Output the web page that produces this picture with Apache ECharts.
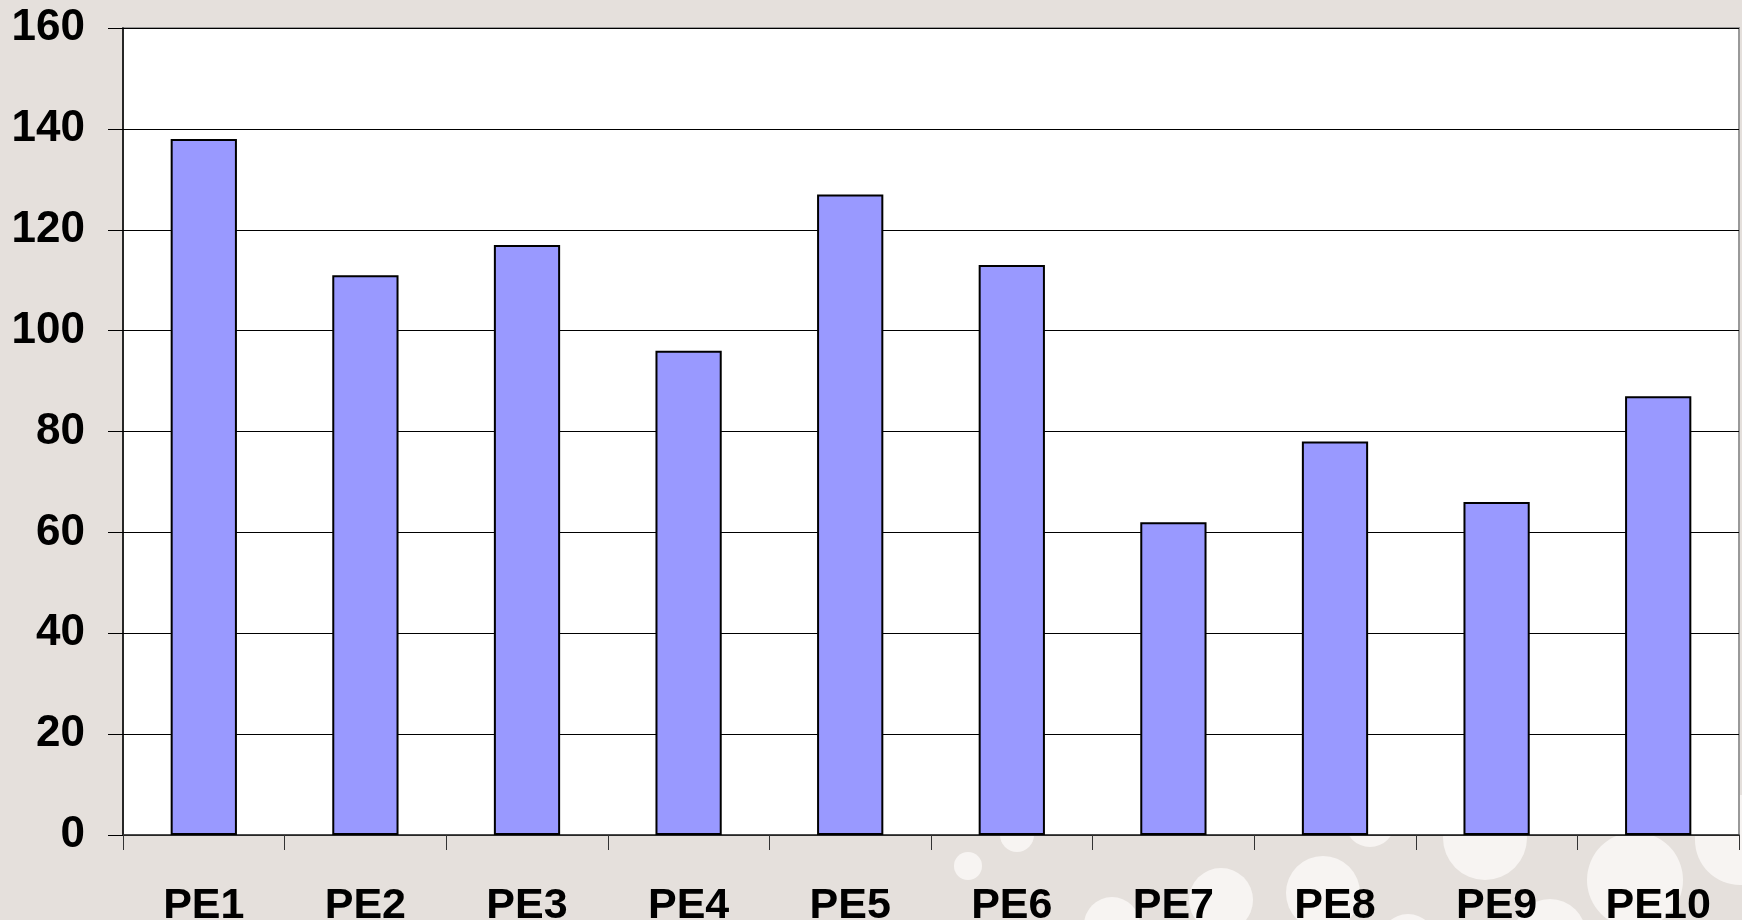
<!DOCTYPE html>
<html>
<head>
<meta charset="utf-8">
<script src="https://cdn.jsdelivr.net/npm/echarts@6/dist/echarts.min.js"></script>
<style>
  html, body { margin: 0; padding: 0; background: #e5e0dc; }
  #chart { width: 1742px; height: 920px; }
</style>
</head>
<body>
<div id="chart"></div>
<script>
const categories = ['PE1', 'PE2', 'PE3', 'PE4', 'PE5', 'PE6', 'PE7', 'PE8', 'PE9', 'PE10']
const values = [138, 111, 117, 96, 127, 113, 62, 78, 66, 87]
const yTicks = [0, 20, 40, 60, 80, 100, 120, 140, 160]

// background bubbles (decoration only)
const bubbles = [
  [968, 866, 14], [1017, 835, 17], [1112, 925, 28], [1221, 900, 32],
  [1323, 893, 37], [1370, 822, 25], [1408, 942, 28], [1485, 838, 42],
  [1550, 935, 36], [1635, 880, 48], [1740, 840, 45]
]

const chart = echarts.init(document.getElementById('chart'))
const font = '"Liberation Sans", Arial, sans-serif'

const option = {
  backgroundColor: '#e5e0dc',
  animation: false,
  graphic: {
    elements: bubbles.map(([cx, cy, r]) => ({
      type: 'circle',
      silent: true,
      z: -10,
      shape: { cx, cy, r },
      style: { fill: '#f7f4f2' }
    }))
  },
  grid: {
    left: 123,
    right: 3,
    top: 28,
    bottom: 85,
    outerBoundsMode: 'none',
    show: true,
    backgroundColor: '#ffffff',
    borderColor: '#999999',
    borderWidth: 2
  },
  xAxis: {
    type: 'category',
    data: categories,
    axisLine: { lineStyle: { color: '#333333', width: 1.5 } },
    axisTick: { show: true, length: 15, lineStyle: { color: '#333333' } },
    axisLabel: {
      interval: 0,
      margin: 50,
      color: '#000',
      fontSize: 43,
      fontWeight: 'bold',
      fontFamily: font
    }
  },
  yAxis: {
    type: 'value',
    min: yTicks[0],
    max: yTicks[yTicks.length - 1],
    interval: 20,
    axisLine: { show: true, lineStyle: { color: '#000000', width: 1.5 } },
    axisTick: { show: true, length: 15, lineStyle: { color: '#000000' } },
    splitLine: { show: true, lineStyle: { color: '#000000', width: 1 } },
    axisLabel: {
      margin: 38,
      color: '#000',
      fontSize: 44,
      fontWeight: 'bold',
      fontFamily: font
    }
  },
  series: [{
    type: 'bar',
    data: values,
    barWidth: '41%',
    itemStyle: {
      color: '#9999ff',
      borderColor: '#000000',
      borderWidth: 2
    }
  }]
}

chart.setOption(option)
</script>
</body>
</html>
